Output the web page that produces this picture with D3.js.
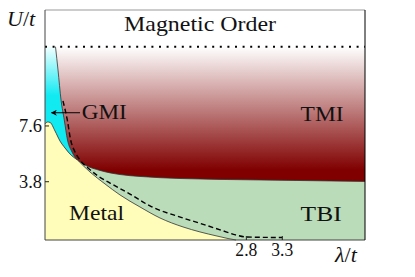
<!DOCTYPE html>
<html>
<head>
<meta charset="utf-8">
<script src="https://cdn.jsdelivr.net/npm/d3@7"></script>
<style>
  body { margin: 0; background: #fff; }
  svg text { font-family: "Liberation Serif", "DejaVu Serif", serif; fill: #111; }
</style>
</head>
<body>
<div id="chart"></div>
<script>
// Phasengrenzen: [lambda/t, U/t]
const magneticU = 13.0; // gepunktete Linie
const gmiTmiLine = [[0.146, 13.0], [0.181, 11.41], [0.223, 9.37], [0.268, 8.01], [0.313, 6.64], [0.375, 5.83], [0.452, 5.28]];
const metalTop = [[0, 7.73], [0.035, 7.87], [0.07, 7.84], [0.139, 7.26], [0.209, 6.57], [0.278, 6.10], [0.348, 5.69], [0.452, 5.28]];
const metalTbiLine = [[0.452, 5.28], [0.626, 4.46], [0.834, 3.65], [1.043, 2.90], [1.321, 2.08], [1.599, 1.33], [1.919, 0.72], [2.155, 0.38], [2.392, 0.10], [2.545, -0.07], [2.656, -0.17]];
const tmiTbiLine = [[0.452, 5.28], [0.556, 4.94], [0.765, 4.57], [1.043, 4.29], [1.321, 4.16], [1.877, 4.02], [2.99, 3.92], [4.45, 3.82]];
const dashedLine = [[0.250, 9.30], [0.310, 8.01], [0.357, 6.64], [0.417, 5.83], [0.487, 5.28], [0.598, 4.74], [0.737, 4.19], [0.904, 3.71], [1.182, 2.96], [1.460, 2.15], [1.919, 1.33], [2.2, 0.90], [2.45, 0.50], [2.65, 0.18], [2.809, 0.03], [3.3, 0.0]];

const xTicks = [2.8, 3.3];
const yTicks = [7.6, 3.8];

const labels = [
  { text: "Magnetic Order", lam: 2.156, u: 14.05, len: 152 },
  { text: "TMI", lam: 3.853, u: 7.96, len: 43 },
  { text: "GMI", lam: 0.823, u: 8.05, len: 45 },
  { text: "Metal", lam: 0.716, u: 1.19, len: 55 },
  { text: "TBI", lam: 3.84, u: 1.15, len: 41 }
];
const arrowFrom = [0.487, 8.50];
const arrowTo = [0.09, 8.50];

const width = 415, height = 277;
const mLeft = 45, mRight = 365, mTop = 10, mBottom = 240;

const svg = d3.select("#chart")
  .append("svg")
  .attr("width", width)
  .attr("height", height);

const x = d3.scaleLinear().domain([0, 4.45]).range([mLeft, mRight]);
const y = d3.scaleLinear().domain([-0.17, 15.5]).range([mBottom, mTop]);

const line = d3.line()
  .x(d => x(d[0]))
  .y(d => y(d[1]))
  .curve(d3.curveMonotoneX);
const cont = pts => line(pts).replace(/^M/, "L"); // Pfad ohne neues M anhaengen
const pt = (l, u) => `${x(l)},${y(u)}`;

// Farbverlaeufe
const defs = svg.append("defs");
const gradTmi = defs.append("linearGradient")
  .attr("id", "gradTmi")
  .attr("gradientUnits", "userSpaceOnUse")
  .attr("x1", 0).attr("x2", 0)
  .attr("y1", y(magneticU)).attr("y2", y(4.6));
gradTmi.append("stop").attr("offset", 0).attr("stop-color", "#ffffff");
gradTmi.append("stop").attr("offset", 1).attr("stop-color", "#800000");

const gradGmi = defs.append("linearGradient")
  .attr("id", "gradGmi")
  .attr("gradientUnits", "userSpaceOnUse")
  .attr("x1", 0).attr("x2", 0)
  .attr("y1", y(magneticU)).attr("y2", y(9.7));
gradGmi.append("stop").attr("offset", 0).attr("stop-color", "#f4ffff");
gradGmi.append("stop").attr("offset", 1).attr("stop-color", "#12eaf2");

// TMI (ganzer Bereich unter der Punktlinie, wird danach ueberdeckt)
svg.append("rect")
  .attr("x", x(0))
  .attr("y", y(magneticU))
  .attr("width", x(4.45) - x(0))
  .attr("height", y(-0.17) - y(magneticU))
  .attr("fill", "url(#gradTmi)");

// TBI
svg.append("path")
  .attr("d", line(tmiTbiLine) + `L${pt(4.45, -0.17)}L${pt(0, -0.17)}L${pt(0, 5.28)}Z`)
  .attr("fill", "#badcb9");

// GMI
svg.append("path")
  .attr("d", `M${pt(0, magneticU)}` + cont(gmiTmiLine) + "L" + metalTop.slice().reverse().map(d => pt(d[0], d[1])).join("L") + "Z")
  .attr("fill", "url(#gradGmi)");

// Metal
svg.append("path")
  .attr("d", line(metalTop) + cont(metalTbiLine) + `L${pt(0, -0.17)}Z`)
  .attr("fill", "#fffdb9");

// Grenzlinien
[gmiTmiLine, metalTop, metalTbiLine, tmiTbiLine].forEach(d => {
  svg.append("path")
    .attr("d", line(d))
    .attr("fill", "none")
    .attr("stroke", "#333")
    .attr("stroke-width", 0.8);
});

svg.append("path")
  .attr("d", line(dashedLine))
  .attr("fill", "none")
  .attr("stroke", "#000")
  .attr("stroke-width", 1.4)
  .attr("stroke-dasharray", "5,3");

svg.append("line")
  .attr("x1", x(0)).attr("x2", x(4.45))
  .attr("y1", y(magneticU)).attr("y2", y(magneticU))
  .attr("stroke", "#000")
  .attr("stroke-width", 2)
  .attr("stroke-dasharray", "2,5.6");

// Rahmen
svg.append("line").attr("x1", mLeft).attr("x2", mRight).attr("y1", mTop).attr("y2", mTop).attr("stroke", "#999");
svg.append("line").attr("x1", mLeft).attr("x2", mLeft).attr("y1", mTop).attr("y2", mBottom).attr("stroke", "#444");
svg.append("line").attr("x1", mLeft).attr("x2", mRight).attr("y1", mBottom).attr("y2", mBottom).attr("stroke", "#444");
svg.append("line").attr("x1", mRight).attr("x2", mRight).attr("y1", mTop).attr("y2", mBottom).attr("stroke", "#000");

// Ticks
svg.selectAll(".ytick")
  .data(yTicks)
  .join("line")
  .attr("x1", mLeft).attr("x2", mLeft + 4)
  .attr("y1", d => y(d)).attr("y2", d => y(d))
  .attr("stroke", "#222");
svg.selectAll(".ylab")
  .data(yTicks)
  .join("text")
  .text(d => d.toFixed(1))
  .attr("x", mLeft - 3)
  .attr("y", d => y(d) + 6)
  .attr("text-anchor", "end")
  .attr("font-size", 18)
  .attr("textLength", 23)
  .attr("lengthAdjust", "spacingAndGlyphs");

svg.selectAll(".xtick")
  .data(xTicks)
  .join("line")
  .attr("x1", d => x(d)).attr("x2", d => x(d))
  .attr("y1", mBottom).attr("y2", mBottom - 4)
  .attr("stroke", "#222");
svg.selectAll(".xlab")
  .data(xTicks)
  .join("text")
  .text(d => d.toFixed(1))
  .attr("x", d => x(d))
  .attr("y", 256)
  .attr("text-anchor", "middle")
  .attr("font-size", 18)
  .attr("textLength", 22)
  .attr("lengthAdjust", "spacingAndGlyphs");

// Phasennamen
svg.selectAll(".phase")
  .data(labels)
  .join("text")
  .text(d => d.text)
  .attr("x", d => x(d.lam))
  .attr("y", d => y(d.u))
  .attr("text-anchor", "middle")
  .attr("font-size", 21)
  .attr("textLength", d => d.len)
  .attr("lengthAdjust", "spacingAndGlyphs");

// Pfeil zu GMI
defs.append("marker")
  .attr("id", "arrow")
  .attr("viewBox", "0 0 10 10")
  .attr("refX", 9).attr("refY", 5)
  .attr("markerWidth", 7).attr("markerHeight", 6)
  .attr("markerUnits", "userSpaceOnUse")
  .attr("orient", "auto")
  .append("path")
  .attr("d", "M0,0 L10,5 L0,10 L3,5 Z")
  .attr("fill", "#000");
svg.append("line")
  .attr("x1", x(arrowFrom[0])).attr("y1", y(arrowFrom[1]))
  .attr("x2", x(arrowTo[0])).attr("y2", y(arrowTo[1]))
  .attr("stroke", "#000")
  .attr("stroke-width", 1)
  .attr("marker-end", "url(#arrow)");

// Achsenbeschriftung
const uLab = svg.append("text").attr("x", 7).attr("y", 26).attr("font-size", 22);
uLab.append("tspan").attr("font-style", "italic").text("U");
uLab.append("tspan").text("/");
uLab.append("tspan").attr("font-style", "italic").text("t");

const lLab = svg.append("text").attr("x", 335).attr("y", 262).attr("font-size", 22);
lLab.append("tspan").attr("font-style", "italic").text("λ");
lLab.append("tspan").text("/");
lLab.append("tspan").attr("font-style", "italic").text("t");
</script>
</body>
</html>
